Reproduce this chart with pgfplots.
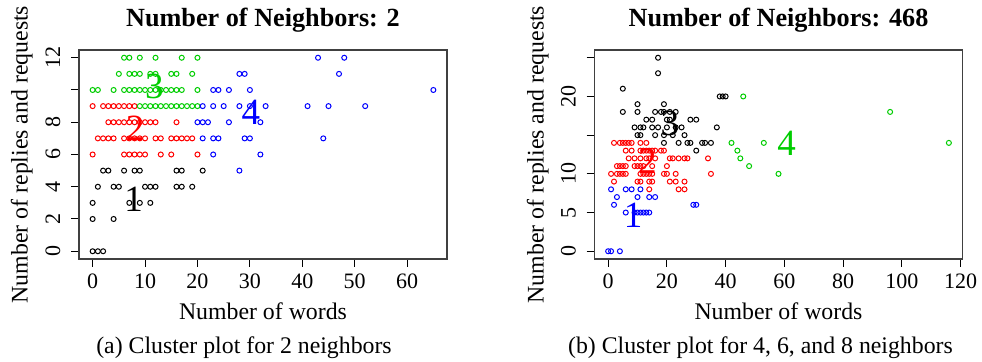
\documentclass[border=0pt]{standalone}
\usepackage{fontspec}
\setmainfont{Liberation Serif}
\usepackage{pgfplots}
\pgfplotsset{compat=1.18}
\definecolor{rgreen}{HTML}{00CD00}
\definecolor{rred}{HTML}{FF0000}
\definecolor{rblue}{HTML}{0000FF}
\pgfplotsset{rstyle/.style={
  scale only axis, width=184pt, height=104.5pt,
  axis line style={line width=0.6pt, black!75},
  tick align=outside, xtick pos=bottom, ytick pos=left,
  major tick length=4pt,
  every tick/.style={black, line width=0.5pt},
  ticklabel style={font=\fontsize{11}{13}\selectfont},
  xticklabel style={inner sep=0pt, anchor=north, yshift=-3.2pt},
  yticklabel style={inner sep=0pt, rotate=90, anchor=base, yshift=5.4pt},
  clip=false,
  every axis plot/.append style={only marks, mark=o, mark size=1.25pt, mark options={line width=0.5pt}},
}}
\newcommand{\lab}{\fontsize{11.9}{14}\selectfont}
\newcommand{\clab}{\fontsize{18.5}{20}\selectfont}
\begin{document}
\begin{tikzpicture}
\useasboundingbox (-39.5pt,-51.5pt) rectangle (451.5pt,129.5pt);
% ---------------- left panel
\begin{axis}[rstyle, at={(0pt,0pt)}, anchor=south west,
  xmin=-2.6, xmax=67.6, ymin=-0.48, ymax=12.48,
  xtick={0,10,20,30,40,50,60}, xticklabels={0,10,20,30,40,50,60},
  ytick={0,2,4,6,8,10,12}, yticklabels={0,2,4,6,8,,12}]
\addplot[black] coordinates {(0,0)(1,0)(2,0)(0,2)(4,2)(0,3)(7,3)(9,3)(11,3)
 (1,4)(4,4)(5,4)(10,4)(11,4)(12,4)(16,4)(17,4)(19,4)
 (2,5)(3,5)(6,5)(8,5)(9,5)(16,5)(17,5)(21,5)};
\addplot[rred] coordinates {(0,9)(2,9)(3,9)(4,9)(5,9)(6,9)(7,9)(8,9)
 (3,8)(4,8)(5,8)(6,8)(7,8)(8,8)(9,8)(10,8)(11,8)(12,8)(16,8)
 (1,7)(2,7)(3,7)(4,7)(6,7)(7,7)(8,7)(9,7)(10,7)(12,7)(13,7)(15,7)(16,7)(17,7)(18,7)(19,7)
 (0,6)(6,6)(7,6)(8,6)(9,6)(10,6)(13,6)(15,6)(20,6)};
\addplot[rgreen] coordinates {(6,12)(7,12)(9,12)(12,12)(17,12)(20,12)
 (5,11)(7,11)(8,11)(9,11)(11,11)(12,11)(15,11)(16,11)(19,11)
 (0,10)(1,10)(4,10)(6,10)(7,10)(8,10)(9,10)(10,10)(11,10)(12,10)(13,10)(14,10)(15,10)(16,10)(17,10)(20,10)
 (9,9)(10,9)(11,9)(12,9)(13,9)(14,9)(15,9)(16,9)(17,9)(18,9)(19,9)(20,9)};
\addplot[rblue] coordinates {(43,12)(48,12)(28,11)(29,11)(47,11)
 (23,10)(24,10)(26,10)(30,10)(65,10)
 (21,9)(23,9)(25,9)(28,9)(30,9)(33,9)(41,9)(45,9)(52,9)
 (20,8)(21,8)(22,8)(26,8)(32,8)
 (21,7)(23,7)(24,7)(29,7)(30,7)(44,7)
 (23,6)(32,6)(28,5)};
\node[black, font=\clab, inner sep=0pt] at (axis cs:7.8,3.2) {1};
\node[rred, font=\clab, inner sep=0pt] at (axis cs:8.1,7.6) {2};
\node[rgreen, font=\clab, inner sep=0pt] at (axis cs:11.8,10.2) {3};
\node[rblue, font=\clab, inner sep=0pt] at (axis cs:30.2,8.6) {4};
\end{axis}
% ---------------- right panel
\begin{axis}[rstyle, at={(257.75pt,0pt)}, anchor=south west,
  xmin=-4.64, xmax=120.64, ymin=-1, ymax=26,
  xtick={0,20,40,60,80,100,120}, xticklabels={0,20,40,60,80,100,120},
  ytick={0,5,10,15,20,25}, yticklabels={0,5,10,,20,}]
\addplot[rblue] coordinates {(0,0)(1,0)(4,0)(6,5)(9,5)(10,5)(11,5)(12,5)(13,5)(14,5)
 (2,6)(29,6)(30,6)(3,7)(10,7)(14,7)(16,7)(1,8)(6,8)(8,8)(11,8)};
\addplot[rred] coordinates {(2,14)(4,14)(5,14)(6,14)(7,14)(8,14)(11,14)(13,14)
 (6,13)(8,13)(11,13)(12,13)(13,13)(14,13)(15,13)(16,13)(18,13)(19,13)
 (7,12)(9,12)(11,12)(13,12)(14,12)(16,12)(21,12)(22,12)(24,12)(26,12)(27,12)(34,12)
 (3,11)(4,11)(5,11)(6,11)(9,11)(10,11)(11,11)(12,11)(15,11)(20,11)
 (1,10)(3,10)(4,10)(5,10)(6,10)(11,10)(12,10)(13,10)(14,10)(15,10)(19,10)(20,10)(23,10)(35,10)
 (2,9)(10,9)(11,9)(14,9)(15,9)(21,9)(23,9)(26,9)
 (14,8)(24,8)(26,8)};
\addplot[black] coordinates {(17,25)(17,23)(5,21)(38,20)(39,20)(40,20)(10,19)(19,19)
 (5,18)(10,18)(16,18)(18,18)(19,18)(21,18)(23,18)
 (13,17)(15,17)(20,17)(21,17)(28,17)(30,17)
 (9,16)(11,16)(12,16)(15,16)(17,16)(20,16)(23,16)(25,16)(37,16)
 (10,15)(11,15)(16,15)(19,15)(22,15)(26,15)
 (19,14)(24,14)(27,14)(28,14)(32,14)(33,14)(35,14)(30,13)};
\addplot[rgreen] coordinates {(42,14)(44,13)(45,12)(46,20)(48,11)(53,14)(58,10)(96,18)(116,14)};
\node[rblue, font=\clab, inner sep=0pt] at (axis cs:8.5,4.7) {1};
\node[rred, font=\clab, inner sep=0pt] at (axis cs:13.4,11.6) {2};
\node[black, font=\clab, inner sep=0pt] at (axis cs:21,16.5) {3};
\node[rgreen, font=\clab, inner sep=0pt] at (axis cs:60.8,13.9) {4};
\end{axis}
% ---------------- texts
\node[anchor=base, font=\fontsize{13.1}{15}\selectfont\bfseries] at (92pt,116pt) {Number of Neighbors: 2};
\node[anchor=base, font=\fontsize{13.1}{15}\selectfont\bfseries] at (349.75pt,116pt) {Number of Neighbors: 468};
\node[anchor=base, font=\lab] at (92pt,-30.2pt) {Number of words};
\node[anchor=base, font=\lab] at (349.75pt,-30.2pt) {Number of words};
\node[anchor=base, rotate=90, font=\lab, inner sep=0pt] at (-25.7pt,52.25pt) {Number of replies and requests};
\node[anchor=base, rotate=90, font=\lab, inner sep=0pt] at (232.35pt,52.25pt) {Number of replies and requests};
\node[anchor=base, font=\lab] at (82.5pt,-47.5pt) {(a) Cluster plot for 2 neighbors};
\node[anchor=base, font=\lab] at (340.75pt,-47.5pt) {(b) Cluster plot for 4, 6, and 8 neighbors};
\end{tikzpicture}
\end{document}
